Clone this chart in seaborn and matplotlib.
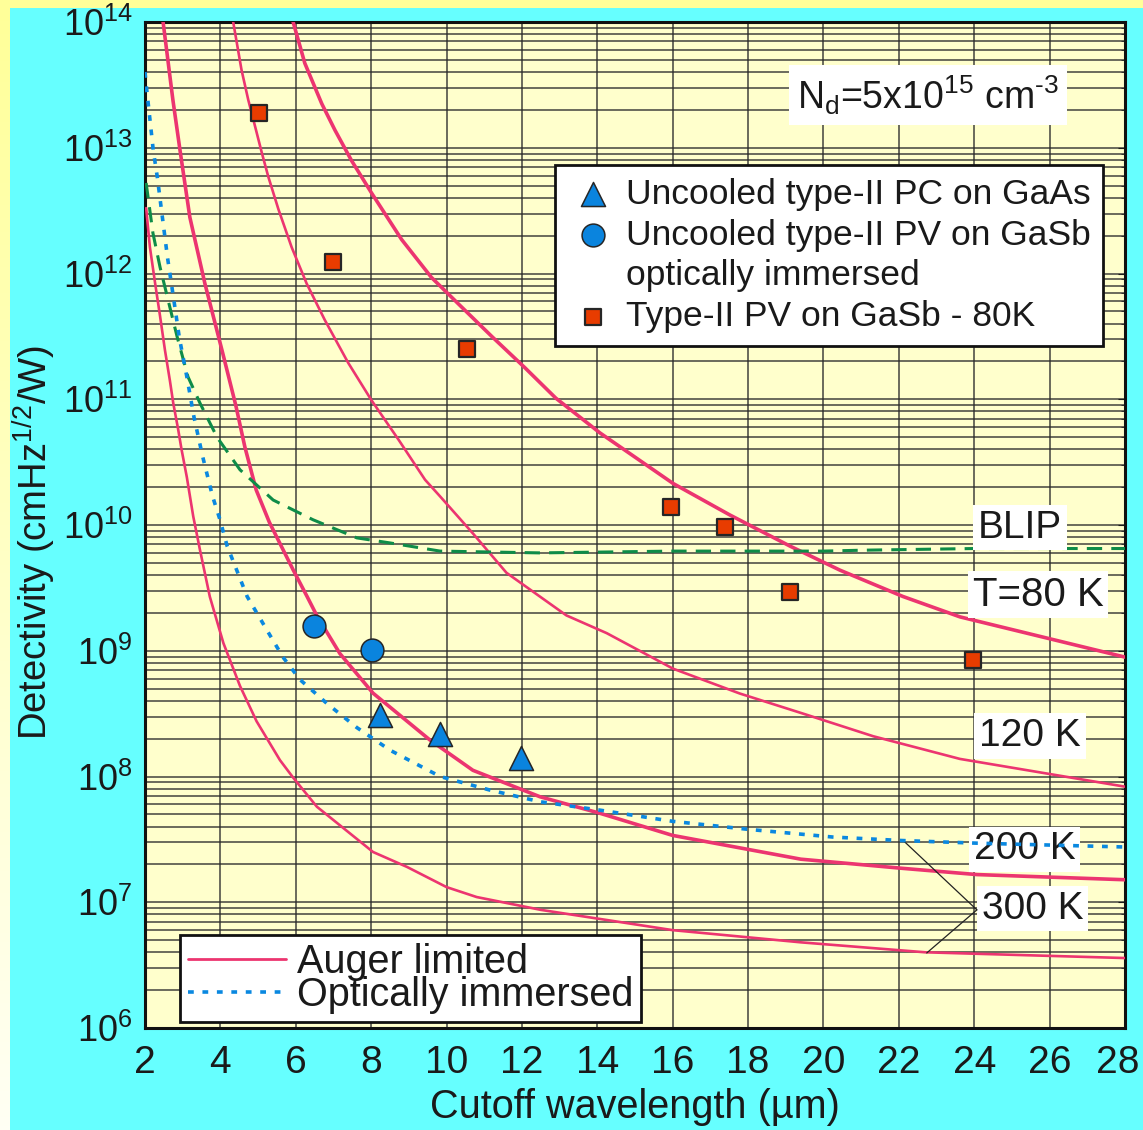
import numpy as np
import pandas as pd
import matplotlib
matplotlib.use("Agg")
import matplotlib.pyplot as plt
import matplotlib.ticker as mticker
import matplotlib.transforms as mtransforms
from matplotlib.lines import Line2D
from matplotlib.patches import Rectangle
import seaborn as sns

# ---------------- data ----------------
# Auger-limited detectivity curves
auger_80k_x = [5.93, 6.24, 6.69, 7.04, 7.48, 8.01, 8.81, 9.60, 10.31, 11.2, 12.08, 12.9, 14.07,
               16.01, 17.52, 19.11, 20.44, 22.11, 23.62, 28.0]
auger_80k_d = [1.0e14, 4.7e13, 2.24e13, 1.38e13, 7.9e12, 4.37e12, 1.86e12, 9.3e11, 5.75e11,
               3.16e11, 1.78e11, 1.02e11, 5.4e10, 2.14e10, 1.2e10, 6.8e9, 4.37e9, 2.7e9, 1.86e9, 8.9e8]

auger_120k_x = [4.34, 4.56, 4.74, 4.92, 5.10, 5.27, 5.54, 5.89, 6.29, 6.77, 7.39, 8.01, 8.72, 9.43,
                9.82, 10.71, 11.59, 13.18, 14.25, 16.01, 17.78, 19.55, 21.32, 23.62, 28.0]
auger_120k_d = [1.0e14, 4.17e13, 2.4e13, 1.48e13, 9.1e12, 5.9e12, 3.24e12, 1.62e12, 8.3e11,
                4.27e11, 1.95e11, 9.8e10, 4.8e10, 2.29e10, 1.7e10, 8.5e9, 4.17e9, 1.91e9, 1.38e9,
                7.2e8, 4.57e8, 3.1e8, 2.09e8, 1.38e8, 8.3e7]

auger_200k_x = [2.48, 2.74, 2.93, 3.19, 3.59, 4.06, 4.41, 4.65, 4.95, 5.3, 5.67, 5.93, 6.30, 6.56,
                7.17, 8.05, 9.56, 10.7, 12.48, 14.07, 16.0, 19.4, 22.1, 24.07, 28.0]
auger_200k_d = [1.0e14, 2.4e13, 9.5e12, 2.8e12, 8.3e11, 2.34e11, 8.9e10, 4.17e10, 1.9e10, 1.05e10,
                6.3e9, 4.4e9, 2.7e9, 1.9e9, 9.5e8, 4.6e8, 1.95e8, 1.12e8, 6.9e7, 5.1e7, 3.4e7,
                2.2e7, 1.86e7, 1.66e7, 1.51e7]

auger_300k_x = [2.03, 2.13, 2.27, 2.40, 2.53, 2.66, 2.75, 2.88, 2.97, 3.11, 3.28, 3.46, 3.72, 4.08,
                4.52, 4.96, 5.58, 5.93, 6.56, 8.05, 8.95, 10.0, 10.8, 12.5, 16.0, 19.4, 22.7, 28.0]
auger_300k_d = [3.31e12, 1.62e12, 8.3e11, 4.57e11, 2.45e11, 1.41e11, 9.3e10, 5.75e10, 3.98e10,
                2.4e10, 1.17e10, 6.3e9, 2.69e9, 1.15e9, 5.25e8, 2.75e8, 1.35e8, 9.8e7, 5.75e7,
                2.51e7, 1.91e7, 1.32e7, 1.1e7, 8.7e6, 6.0e6, 4.8e6, 4.0e6, 3.6e6]

# Background-limited (BLIP) curve
blip_x = [2.03, 2.21, 2.40, 2.61, 2.85, 3.14, 3.46, 3.91, 4.52, 5.40, 6.46, 7.62, 8.50, 9.83,
          12.48, 16.0, 20.0, 21.0, 24.0, 28.0]
blip_d = [5.25e12, 2.1e12, 1.12e12, 6.2e11, 3.16e11, 1.51e11, 9.3e10, 5.0e10, 2.75e10, 1.58e10,
          1.1e10, 7.9e9, 7.2e9, 6.2e9, 6.0e9, 6.2e9, 6.2e9, 6.3e9, 6.5e9, 6.5e9]

# Optically immersed (300 K) curve
immersed_x = [2.0, 2.03, 2.22, 2.33, 2.42, 2.60, 2.75, 2.91, 3.11, 3.30, 3.53, 3.79, 3.99, 4.18,
              4.43, 4.71, 5.24, 5.66, 6.11, 6.83, 7.62, 8.5, 9.83, 11.15, 12.48, 14.07, 16.0,
              18.0, 20.25, 22.03, 24.07, 28.0]
immersed_d = [4.0e13, 3.2e13, 9.5e12, 5.75e12, 3.5e12, 1.32e12, 6.6e11, 3.1e11, 1.51e11, 7.2e10,
              3.5e10, 1.7e10, 1.1e10, 6.8e9, 4.4e9, 2.7e9, 1.45e9, 8.9e8, 5.9e8, 3.8e8, 2.45e8,
              1.62e8, 1.0e8, 7.8e7, 6.3e7, 5.4e7, 4.4e7, 3.8e7, 3.3e7, 3.1e7, 2.95e7, 2.75e7]

# Experimental points
pc_gaas_x = [8.23, 9.83, 11.97]
pc_gaas_d = [3.1e8, 2.17e8, 1.4e8]

pv_immersed_x = [6.49, 8.01]
pv_immersed_d = [1.57e9, 1.01e9]

pv_80k_x = [5.02, 6.99, 10.54, 15.95, 17.38, 19.1, 23.96]
pv_80k_d = [1.9e13, 1.23e12, 2.5e11, 1.38e10, 9.6e9, 2.95e9, 8.5e8]

x_ticks = list(range(2, 29, 2))

legend_markers = ["Uncooled type-II PC on GaAs", "Uncooled type-II PV on GaSb",
                  "optically immersed", "Type-II PV on GaSb - 80K"]
legend_lines = ["Auger limited", "Optically immersed"]

curve_labels = ["BLIP", "T=80 K", "120 K", "200 K", "300 K"]
curve_label_x = [25.21, 25.69, 25.48, 25.34, 25.55]
curve_label_y = [9.5e9, 2.8e9, 2.1e8, 2.63e7, 8.9e6]

# leader lines of the "300 K" label
leader_start = (24.07, 8.7e6)
leader_ends = [(22.1, 3.13e7), (22.74, 3.95e6)]

# ---------------- style ----------------
sns.set_style("white")
plt.rcParams["font.family"] = ["Liberation Sans", "DejaVu Sans"]
plt.rcParams["mathtext.fontset"] = "custom"
plt.rcParams["mathtext.rm"] = "Liberation Sans"
plt.rcParams["mathtext.it"] = "Liberation Sans:italic"
plt.rcParams["mathtext.bf"] = "Liberation Sans:bold"
plt.rcParams["mathtext.default"] = "regular"

RED = "#EC3570"
BLUE = "#0A88E0"
GREEN = "#0E8C48"
MBLUE = "#0A84DE"
SQ = "#E83C00"
EDGE = "#262626"
BG = "#66FFFF"
AXBG = "#FFFFCC"

fig = plt.figure(figsize=(11.43, 11.30), dpi=100)
fig.patch.set_facecolor(BG)

# decorative yellow strips on top / left edge
fig.add_artist(Rectangle((0, 1 - 8 / 1130), 1, 8 / 1130, transform=fig.transFigure,
                         facecolor="#FFFF99", edgecolor="none", zorder=0))
strip = fig.add_axes([0, 0, 10 / 1143, 1 - 8 / 1130])
grad = np.linspace(0, 1, 256).reshape(-1, 1)
strip.imshow(grad, aspect="auto", cmap=matplotlib.colors.LinearSegmentedColormap.from_list(
    "ys", ["#FFFF99", "#FFFFF4"]), extent=[0, 1, 0, 1], origin="upper")
strip.axis("off")

ax = fig.add_axes([145 / 1143, 1 - 1028 / 1130, 980 / 1143, 1006 / 1130])
ax.set_facecolor(AXBG)

# ---------------- curves ----------------
sns.lineplot(x=auger_80k_x, y=auger_80k_d, ax=ax, color=RED, lw=2.6, estimator=None, sort=False, zorder=3)
sns.lineplot(x=auger_120k_x, y=auger_120k_d, ax=ax, color=RED, lw=1.9, estimator=None, sort=False, zorder=3)
sns.lineplot(x=auger_200k_x, y=auger_200k_d, ax=ax, color=RED, lw=2.6, estimator=None, sort=False, zorder=3)
sns.lineplot(x=auger_300k_x, y=auger_300k_d, ax=ax, color=RED, lw=1.9, estimator=None, sort=False, zorder=3)
sns.lineplot(x=blip_x, y=blip_d, ax=ax, color=GREEN, lw=2.2, linestyle=(0, (5, 3)),
             estimator=None, sort=False, zorder=3)
sns.lineplot(x=immersed_x, y=immersed_d, ax=ax, color=BLUE, lw=2.6, linestyle=(0, (1.6, 2.4)),
             estimator=None, sort=False, zorder=6)

# ---------------- markers ----------------
sns.scatterplot(x=pc_gaas_x, y=pc_gaas_d, ax=ax, marker="^", s=300, color=MBLUE,
                edgecolor=EDGE, linewidth=1.1, zorder=7)
sns.scatterplot(x=pv_immersed_x, y=pv_immersed_d, ax=ax, marker="o", s=270, color=MBLUE,
                edgecolor=EDGE, linewidth=1.1, zorder=7)
sns.scatterplot(x=pv_80k_x, y=pv_80k_d, ax=ax, marker="s", s=135, color=SQ,
                edgecolor=EDGE, linewidth=1.6, zorder=7)

# ---------------- axes ----------------
ax.set_yscale("log")
ax.set_xlim(2, 28)
ax.set_ylim(1e6, 1e14)
ax.set_xticks(x_ticks)
ax.set_xticklabels([str(t) for t in x_ticks])
ax.yaxis.set_major_locator(mticker.LogLocator(base=10, numticks=20))
ax.yaxis.set_minor_locator(mticker.LogLocator(base=10, subs=np.arange(2, 10), numticks=100))
ax.yaxis.set_minor_formatter(mticker.NullFormatter())
ax.grid(True, which="major", axis="x", color="#2a2a2a", lw=1.3, alpha=0.75, zorder=1)
ax.grid(True, which="both", axis="y", color="#2a2a2a", lw=1.3, alpha=0.75, zorder=1)
ax.set_axisbelow(True)
ax.tick_params(axis="x", which="both", length=0, labelsize=28, pad=12, colors="#1a1a1a")
ax.tick_params(axis="y", which="major", length=5, direction="in", right=True, labelsize=26,
               pad=9, colors="#1a1a1a")
ax.tick_params(axis="y", which="minor", length=3, direction="in", right=True)
for sp in ax.spines.values():
    sp.set_color("#111111")
    sp.set_linewidth(2.2)

# keep the last x tick label inside the figure, as in the reference
last_lab = ax.get_xticklabels()[-1]
last_lab.set_transform(last_lab.get_transform() +
                       mtransforms.ScaledTranslation(-7 / 100, 0, fig.dpi_scale_trans))

ax.set_xlabel("Cutoff wavelength (µm)", fontsize=28.5, color="#1a1a1a")
ax.set_ylabel("Detectivity (cmHz$^{1/2}$/W)", fontsize=27.5, color="#1a1a1a")
ax.xaxis.set_label_coords(0.5, -0.0596)
ax.yaxis.set_label_coords(-0.0888, 0.483)

# ---------------- text annotations ----------------
box = dict(boxstyle="square,pad=0.12", facecolor="white", edgecolor="none")
ax.text(22.77, 2.63e13, "N$_d$=5x10$^{15}$ cm$^{\u2010 3}$", fontsize=27, ha="center", va="center",
        color="#1a1a1a", bbox=dict(boxstyle="square,pad=0.22", facecolor="white", edgecolor="none"),
        zorder=8)
for lab, lx, ly in zip(curve_labels, curve_label_x, curve_label_y):
    ax.text(lx, ly, lab, fontsize=29 if lab.startswith("T") else 28, ha="center", va="center",
            color="#1a1a1a", bbox=box, zorder=5)
for end in leader_ends:
    ax.annotate("", xy=end, xytext=leader_start,
                arrowprops=dict(arrowstyle="-", color="#222222", lw=0.9, shrinkA=0, shrinkB=0),
                zorder=5)

# ---------------- legends ----------------
colls = ax.collections
h_tri, h_circ, h_sq = colls[-3], colls[-2], colls[-1]
h_blank = Line2D([], [], linestyle="none", marker=None)
leg1 = ax.legend([h_tri, h_circ, h_blank, h_sq], legend_markers,
                 loc="upper right", bbox_to_anchor=((1103 - 145) / 980, 1 - (165 - 22) / 1006),
                 fontsize=25.5, frameon=True, fancybox=False, framealpha=1, edgecolor="#111111",
                 borderpad=0.36, labelspacing=0.22, handlelength=1.47, handletextpad=0.17,
                 borderaxespad=0)
leg1.get_frame().set_linewidth(2)
for t in leg1.get_texts():
    t.set_color("#1a1a1a")
leg1.set_zorder(9)
ax.add_artist(leg1)

h_auger = Line2D([], [], color=RED, lw=2)
h_imm = Line2D([], [], color=BLUE, lw=2.6, linestyle=(0, (1.6, 2.4)))
leg2 = ax.legend([h_auger, h_imm], legend_lines,
                 loc="lower left", bbox_to_anchor=((180 - 145) / 980, (1028 - 1022) / 1006),
                 fontsize=28.5, frameon=True, fancybox=False, framealpha=1, edgecolor="#111111",
                 borderpad=0.2, labelspacing=-0.12, handlelength=2.48, handletextpad=0.28,
                 borderaxespad=0)
leg2.get_frame().set_linewidth(2)
for t in leg2.get_texts():
    t.set_color("#1a1a1a")
leg2.set_zorder(9)

fig.savefig("out.png", dpi=100, facecolor=fig.get_facecolor())
